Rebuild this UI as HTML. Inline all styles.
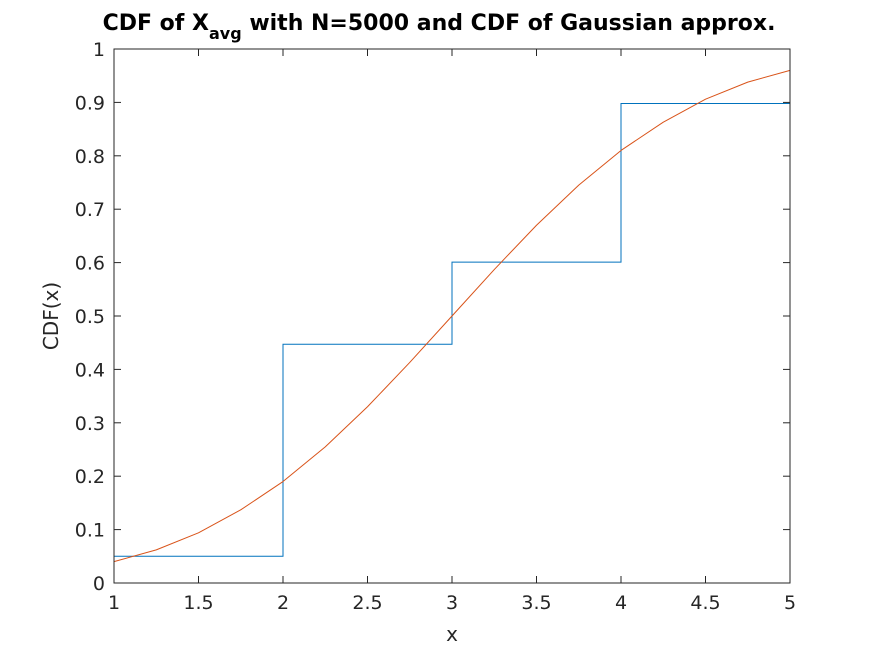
<!DOCTYPE html>
<html><head><meta charset="utf-8"><style>
html,body{margin:0;padding:0;background:#fff;}
svg text{font-family:"DejaVu Sans","Liberation Sans",sans-serif;fill:#262626;}
</style></head><body>
<svg id="chart" width="874" height="656" viewBox="0 0 874 656" xmlns="http://www.w3.org/2000/svg">
<text x="439" y="30" text-anchor="middle" font-size="22" font-weight="bold" style="fill:#000">CDF of X<tspan font-size="16" dy="9">avg</tspan><tspan dy="-9"> with N=5000 and CDF of Gaussian approx.</tspan></text>
<rect x="114" y="49" width="676" height="534" fill="#fff"/>
<g id="ticks"></g>
<g id="series"></g>
<rect x="114" y="49" width="676" height="534" fill="none" stroke="#262626" stroke-width="1"/>
<text x="452" y="641" text-anchor="middle" font-size="20">x</text>
<text transform="translate(58,316) rotate(-90)" text-anchor="middle" font-size="20">CDF(x)</text>
</svg>
<script>
const xTicks=[1,1.5,2,2.5,3,3.5,4,4.5,5];
const xTickLabels=["1","1.5","2","2.5","3","3.5","4","4.5","5"];
const yTicks=[0,0.1,0.2,0.3,0.4,0.5,0.6,0.7,0.8,0.9,1];
const yTickLabels=["0","0.1","0.2","0.3","0.4","0.5","0.6","0.7","0.8","0.9","1"];
const stepX=[1,2,3,4,5];
const stepVals=[0.05,0.447,0.601,0.898,1];
const gaussX=[1,1.25,1.5,1.75,2,2.25,2.5,2.75,3,3.25,3.5,3.75,4,4.25,4.5,4.75,5];
const gaussVals=[0.040,0.062,0.094,0.137,0.190,0.255,0.330,0.413,0.5,0.587,0.670,0.745,0.810,0.863,0.906,0.938,0.960];

const L=114,R=790,T=49,B=583;
const sx=v=>L+(v-1)/(5-1)*(R-L);
const sy=v=>B-(v-0)/(1-0)*(B-T);
const NS="http://www.w3.org/2000/svg";
const tg=document.getElementById('ticks'), sg=document.getElementById('series');
function mk(tag,attrs,parent){const e=document.createElementNS(NS,tag);for(const k in attrs)e.setAttribute(k,attrs[k]);parent.appendChild(e);return e;}
xTicks.forEach((v,i)=>{
  const x=sx(v);
  const t1=mk('line',{x1:x,x2:x,y1:B,y2:B-7,stroke:'#262626'},tg);
  
  
  const t2=mk('line',{x1:x,x2:x,y1:T,y2:T+7,stroke:'#262626'},tg);
  
  
  const tx=mk('text',{x:x,y:B+26,'text-anchor':'middle','font-size':'19'},tg);
  tx.textContent=xTickLabels[i];
  
  
});
yTicks.forEach((v,i)=>{
  const y=sy(v);
  const t1=mk('line',{x1:L,x2:L+7,y1:y,y2:y,stroke:'#262626'},tg);
  
  
  const t2=mk('line',{x1:R,x2:R-7,y1:y,y2:y,stroke:'#262626'},tg);
  
  
  const tx=mk('text',{x:L-9,y:y+7,'text-anchor':'end','font-size':'19'},tg);
  tx.textContent=yTickLabels[i];
  
  
});
let d='M'+sx(stepX[0])+','+sy(0);
for(let i=0;i<stepX.length;i++){
  d+=' L'+sx(stepX[i])+','+sy(stepVals[i]);
  if(i<stepX.length-1) d+=' L'+sx(stepX[i+1])+','+sy(stepVals[i]);
}
const sp=mk('path',{d:d,fill:'none',stroke:'#0072bd','stroke-width':'1'},sg);


const pts=gaussX.map((x,i)=>sx(x)+','+sy(gaussVals[i])).join(' ');
const gp=mk('polyline',{points:pts,fill:'none',stroke:'#d95319','stroke-width':'1','stroke-linejoin':'round'},sg);


</script>
</body></html>
